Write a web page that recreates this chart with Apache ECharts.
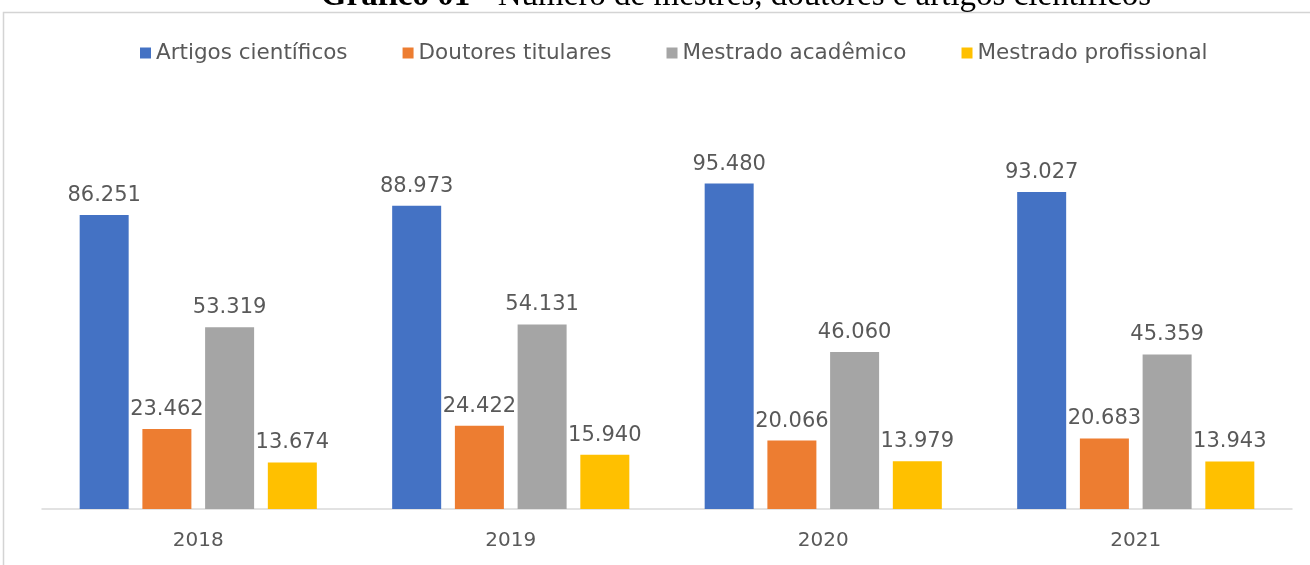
<!DOCTYPE html>
<html>
<head>
<meta charset="utf-8">
<script src="https://cdn.jsdelivr.net/npm/echarts@6/dist/echarts.min.js"></script>
<style>
  html, body { margin: 0; padding: 0; background: #fff; }
  #chart { width: 1310px; height: 565px; }
</style>
</head>
<body>
<div id="chart"></div>
<script>
// Anos e séries
const years = ['2018', '2019', '2020', '2021'];
const artigos = [86251, 88973, 95480, 93027];
const doutores = [23462, 24422, 20066, 20683];
const mestradoAcad = [53319, 54131, 46060, 45359];
const mestradoProf = [13674, 15940, 13979, 13943];

const seriesNames = ['Artigos científicos', 'Doutores titulares', 'Mestrado acadêmico', 'Mestrado profissional'];
const seriesColors = ['#4472c4', '#ed7d31', '#a5a5a5', '#ffc000'];
const seriesData = [artigos, doutores, mestradoAcad, mestradoProf];

// Formato brasileiro: ponto como separador de milhar
function fmt(v) {
  return String(v).replace(/\B(?=(\d{3})+(?!\d))/g, '.');
}

const chart = echarts.init(document.getElementById('chart'), null, { renderer: 'canvas' });

const option = {
  backgroundColor: '#ffffff',
  animation: false,
  graphic: [
    {
      type: 'rect',
      shape: { x: 3.5, y: 12.5, width: 1400, height: 700 },
      style: { fill: 'none', stroke: '#d4d4d4', lineWidth: 1.5 },
      silent: true
    },
    {
      type: 'text',
      x: 736,
      y: 13,
      style: {
        text: '{b|Gráfico 01} - Número de mestres, doutores e artigos científicos',
        textAlign: 'center',
        textVerticalAlign: 'bottom',
        fill: '#000',
        font: '33px "Liberation Serif"',
        rich: {
          b: { fontWeight: 'bold', fontSize: 33, fontFamily: 'Liberation Serif', fill: '#000' }
        }
      }
    }
  ],
  legend: {
    top: 37,
    left: 135,
    itemWidth: 11,
    itemHeight: 11,
    itemGap: 55,
    icon: 'rect',
    textStyle: { color: '#595959', fontSize: 21.5, fontFamily: 'DejaVu Sans' },
    data: seriesNames
  },
  grid: { left: 42, right: 18, top: 100, bottom: 56, containLabel: false },
  xAxis: {
    type: 'category',
    data: years,
    axisLine: { lineStyle: { color: '#d9d9d9', width: 1.5 } },
    axisTick: { show: false },
    axisLabel: { color: '#595959', fontSize: 20, fontFamily: 'DejaVu Sans', margin: 22 }
  },
  yAxis: {
    type: 'value',
    min: 0,
    max: 120000,
    show: false,
    splitLine: { show: false }
  },
  series: seriesNames.map((name, i) => ({
    name: name,
    type: 'bar',
    data: seriesData[i],
    barWidth: 49,
    barGap: '28%',
    itemStyle: { color: seriesColors[i] },
    label: {
      show: true,
      position: 'top',
      distance: 9,
      color: '#595959',
      fontSize: 21,
      fontFamily: 'DejaVu Sans',
      formatter: p => fmt(p.value)
    }
  }))
};

chart.setOption(option);
</script>
</body>
</html>
